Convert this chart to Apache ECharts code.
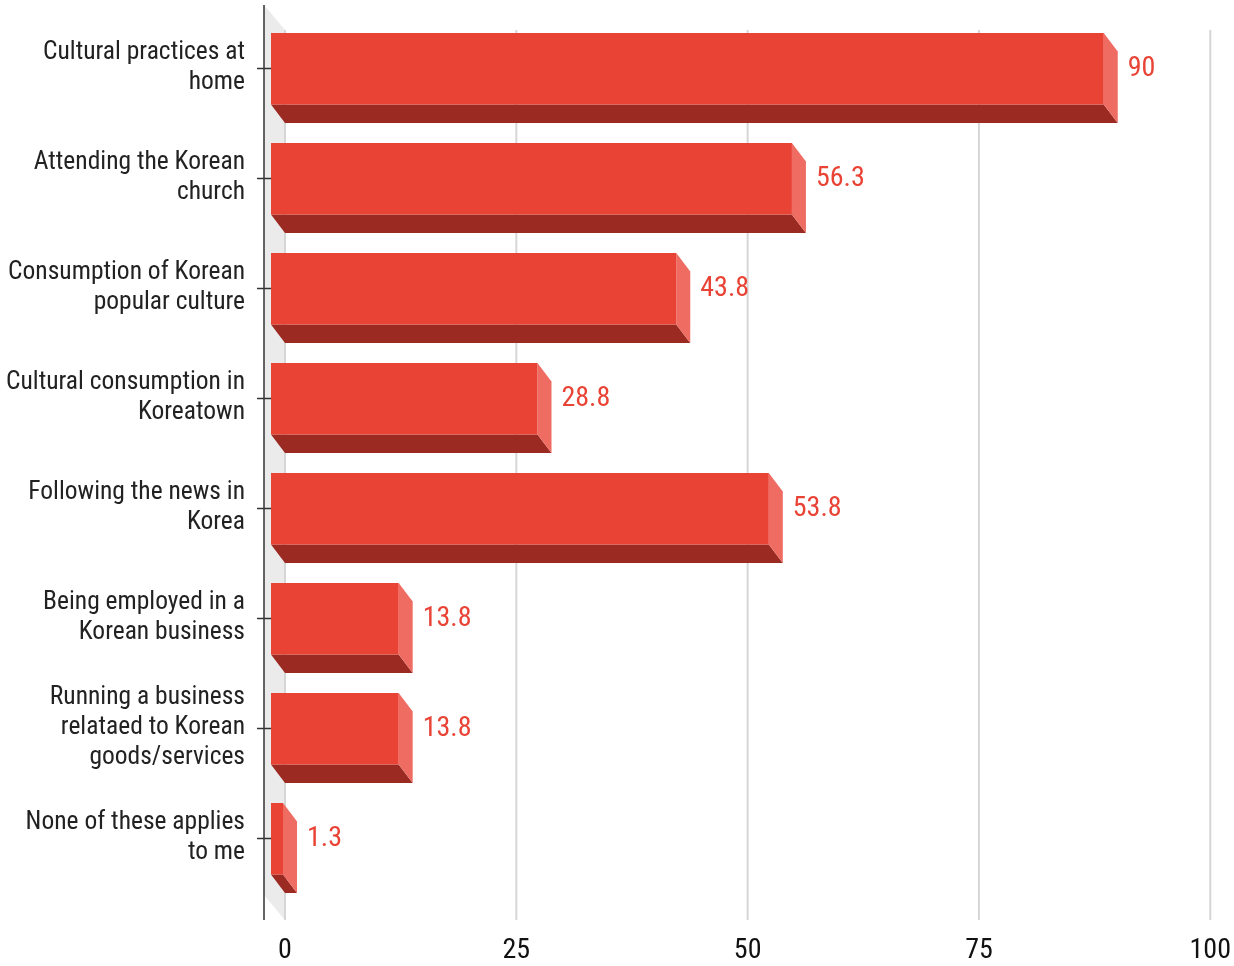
<!DOCTYPE html>
<html>
<head>
<meta charset="utf-8">
<script src="https://cdn.jsdelivr.net/npm/echarts@6/dist/echarts.min.js"></script>
<style>
html,body{margin:0;padding:0;background:#fff;}
#chart{width:1234px;height:966px;}
</style>
</head>
<body>
<div id="chart"></div>
<script>
const categories = [
  "Cultural practices at\nhome",
  "Attending the Korean\nchurch",
  "Consumption of Korean\npopular culture",
  "Cultural consumption in\nKoreatown",
  "Following the news in\nKorea",
  "Being employed in a\nKorean business",
  "Running a business\nrelataed to Korean\ngoods/services",
  "None of these applies\nto me"
];
const values = [90, 56.3, 43.8, 28.8, 53.8, 13.8, 13.8, 1.3];
const xTicks = [0, 25, 50, 75, 100];

const FONT = '"Liberation Sans Narrow", "Arial Narrow", "Roboto Condensed", "Liberation Sans", sans-serif';
const DX = 14, DY = 18.5;
const C_FRONT = '#E94335', C_SIDE = '#EF6C62', C_BOTTOM = '#9B2A22';

const chart = echarts.init(document.getElementById('chart'), null, {renderer: 'canvas'});

function decorRender(params, api) {
  const cs = params.coordSys;
  const top = cs.y, bottom = cs.y + cs.height;
  const x0 = api.coord([0, 0])[0];
  const children = [];
  children.push({
    type: 'polygon',
    shape: {points: [[x0 - 21, top - 8], [x0, top + 17], [x0, bottom + 27], [x0 - 21, bottom + 2]]},
    style: {fill: '#EBEBEB'}
  });
  xTicks.forEach(function (t) {
    const x = api.coord([t, 0])[0];
    children.push({
      type: 'line',
      shape: {x1: x, y1: top + 17, x2: x, y2: bottom + 27},
      style: {stroke: '#D6D6D6', lineWidth: 2}
    });
  });
  children.push({
    type: 'line',
    shape: {x1: x0 - 21, y1: top - 8, x2: x0 - 21, y2: bottom + 27},
    style: {stroke: '#333', lineWidth: 1.5}
  });
  categories.forEach(function (c, i) {
    const y = Math.round(api.coord([0, i])[1]) + 0.5;
    children.push({
      type: 'line',
      shape: {x1: x0 - 28, y1: y, x2: x0 - 13, y2: y},
      style: {stroke: '#333', lineWidth: 1.5}
    });
  });
  return {type: 'group', children: children};
}

function barRender(params, api) {
  const v = api.value(0), ci = api.value(1);
  const pEnd = api.coord([v, ci]);
  const pStart = api.coord([0, ci]);
  const yc = pEnd[1];
  const xb0 = pStart[0], xb1 = pEnd[0];
  const f0 = xb0 - DX, f1 = xb1 - DX;
  const yT = yc - 35, yB = yc + 36.5;
  return {
    type: 'group',
    children: [
      {type: 'polygon', shape: {points: [[f0, yB], [f1, yB], [xb1, yB + DY], [xb0, yB + DY]]}, style: {fill: C_BOTTOM}},
      {type: 'polygon', shape: {points: [[f1, yT], [xb1, yT + DY], [xb1, yB + DY], [f1, yB]]}, style: {fill: C_SIDE}},
      {type: 'rect', shape: {x: f0, y: yT, width: f1 - f0, height: yB - yT}, style: {fill: C_FRONT}},
      {type: 'text', x: xb1 + 10, y: yc + 1, style: {text: String(v), fill: C_FRONT, font: '28px ' + FONT, align: 'left', verticalAlign: 'middle'}}
    ]
  };
}

chart.setOption({
  animation: false,
  backgroundColor: '#fff',
  grid: {left: 285, right: 21, top: 13, bottom: 73, containLabel: false},
  xAxis: {
    type: 'value', min: 0, max: 100, interval: 25,
    axisLine: {show: false}, axisTick: {show: false}, splitLine: {show: false},
    axisLabel: {margin: 43, fontSize: 28, lineHeight: 30, fontFamily: FONT, color: '#111'}
  },
  yAxis: {
    type: 'category', data: categories, inverse: true,
    axisLine: {show: false}, axisTick: {show: false}, splitLine: {show: false},
    axisLabel: {margin: 40, fontSize: 25.5, lineHeight: 30, fontFamily: FONT, color: '#222', align: 'right'}
  },
  series: [
    {type: 'custom', renderItem: decorRender, data: [[0, 0]], z: 1, silent: true, clip: false},
    {type: 'custom', renderItem: barRender, data: values.map(function (v, i) { return [v, i]; }), z: 2, clip: false,
     encode: {x: 0, y: 1}}
  ]
});
</script>
</body>
</html>
